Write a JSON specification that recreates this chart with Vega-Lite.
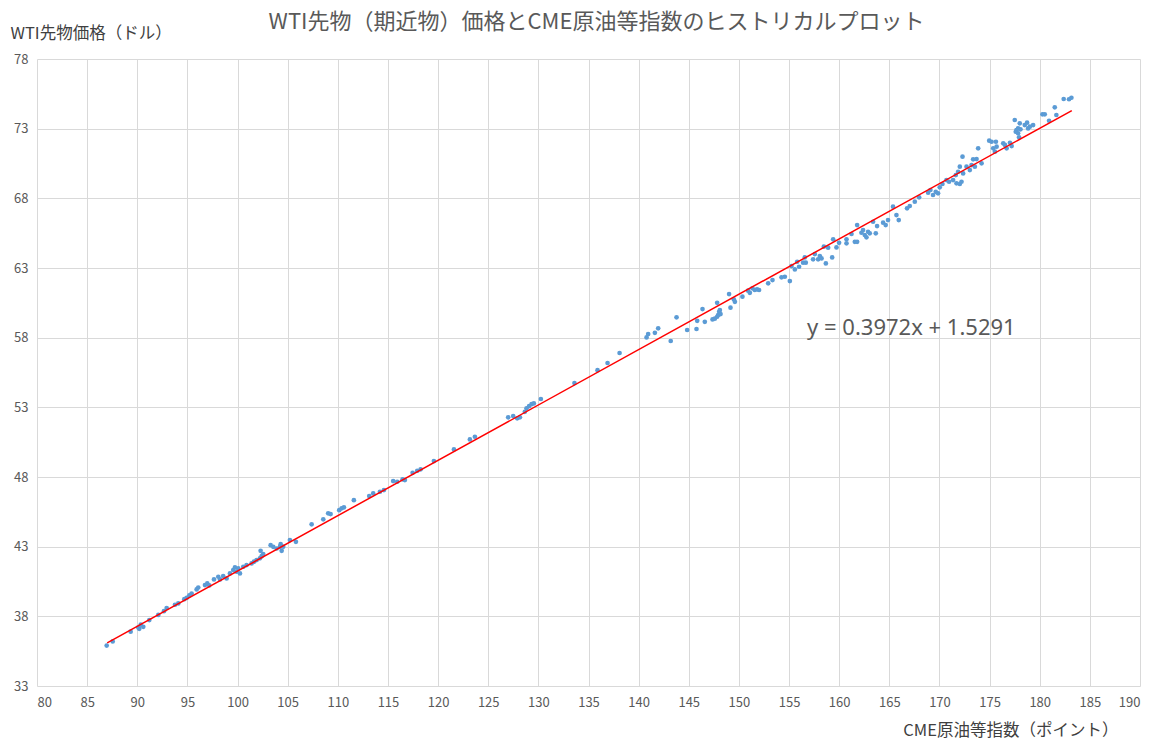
{
  "$schema": "https://vega.github.io/schema/vega-lite/v6.json",
  "width": 1103,
  "height": 627,
  "autosize": {"type": "none"},
  "padding": {"left": 37, "top": 59, "right": 12, "bottom": 54},
  "background": "white",
  "config": {
    "font": "Noto Sans CJK JP",
    "view": {"stroke": null},
    "axis": {
      "grid": true,
      "gridColor": "#d9d9d9",
      "gridWidth": 1,
      "domain": false,
      "ticks": false,
      "labelColor": "#595959",
      "labelFontSize": 13,
      "titleFontSize": 16.5,
      "titleFontWeight": "normal",
      "titleColor": "#404040"
    }
  },
  "title": {
    "text": "WTI先物（期近物）価格とCME原油等指数のヒストリカルプロット",
    "anchor": "middle",
    "fontSize": 22,
    "fontWeight": "normal",
    "color": "#595959",
    "dx": 8,
    "dy": 13
  },
  "datasets": {
    "points": [
      {"cme": 86.95, "wti": 35.9}, {"cme": 87.55, "wti": 36.2}, {"cme": 89.34, "wti": 36.9}, {"cme": 90.2, "wti": 37.1},
      {"cme": 90.35, "wti": 37.4}, {"cme": 90.6, "wti": 37.25}, {"cme": 90.1, "wti": 37.2}, {"cme": 91.2, "wti": 37.73},
      {"cme": 92.1, "wti": 38.1}, {"cme": 92.66, "wti": 38.37}, {"cme": 92.93, "wti": 38.6}, {"cme": 93.76, "wti": 38.83},
      {"cme": 94.09, "wti": 38.93}, {"cme": 94.69, "wti": 39.23}, {"cme": 94.93, "wti": 39.33}, {"cme": 95.19, "wti": 39.5},
      {"cme": 95.42, "wti": 39.64}, {"cme": 95.92, "wti": 39.93}, {"cme": 96.08, "wti": 40.07}, {"cme": 96.75, "wti": 40.24},
      {"cme": 96.98, "wti": 40.36}, {"cme": 97.18, "wti": 40.22}, {"cme": 97.65, "wti": 40.65}, {"cme": 98.08, "wti": 40.84},
      {"cme": 98.25, "wti": 40.65}, {"cme": 98.57, "wti": 40.89}, {"cme": 98.91, "wti": 40.72}, {"cme": 99.24, "wti": 41.08},
      {"cme": 99.57, "wti": 41.32}, {"cme": 99.74, "wti": 41.51}, {"cme": 99.91, "wti": 41.2}, {"cme": 100.07, "wti": 41.44},
      {"cme": 100.24, "wti": 41.08}, {"cme": 100.57, "wti": 41.56}, {"cme": 100.9, "wti": 41.68}, {"cme": 101.4, "wti": 41.8},
      {"cme": 101.64, "wti": 41.92}, {"cme": 101.9, "wti": 42.04}, {"cme": 102.23, "wti": 42.16}, {"cme": 102.4, "wti": 42.32},
      {"cme": 102.56, "wti": 42.47}, {"cme": 102.3, "wti": 42.7}, {"cme": 103.3, "wti": 43.11}, {"cme": 103.56, "wti": 42.99},
      {"cme": 103.9, "wti": 42.87}, {"cme": 104.23, "wti": 42.99}, {"cme": 104.4, "wti": 42.7}, {"cme": 104.3, "wti": 43.18},
      {"cme": 104.55, "wti": 43.0}, {"cme": 105.22, "wti": 43.47}, {"cme": 105.82, "wti": 43.35}, {"cme": 107.39, "wti": 44.6},
      {"cme": 108.55, "wti": 44.96}, {"cme": 109.04, "wti": 45.39}, {"cme": 109.28, "wti": 45.34}, {"cme": 110.14, "wti": 45.62},
      {"cme": 110.38, "wti": 45.75}, {"cme": 110.61, "wti": 45.82}, {"cme": 111.6, "wti": 46.34}, {"cme": 113.13, "wti": 46.63},
      {"cme": 113.53, "wti": 46.82}, {"cme": 114.2, "wti": 46.94}, {"cme": 114.6, "wti": 47.06}, {"cme": 115.52, "wti": 47.71},
      {"cme": 115.92, "wti": 47.66}, {"cme": 116.46, "wti": 47.83}, {"cme": 116.69, "wti": 47.78}, {"cme": 117.46, "wti": 48.3},
      {"cme": 117.92, "wti": 48.45}, {"cme": 118.26, "wti": 48.55}, {"cme": 119.58, "wti": 49.14}, {"cme": 121.58, "wti": 49.98},
      {"cme": 123.17, "wti": 50.7}, {"cme": 123.67, "wti": 50.89}, {"cme": 126.99, "wti": 52.28}, {"cme": 127.49, "wti": 52.37},
      {"cme": 127.89, "wti": 52.21}, {"cme": 128.16, "wti": 52.28}, {"cme": 128.65, "wti": 52.68}, {"cme": 128.82, "wti": 52.93},
      {"cme": 129.08, "wti": 53.09}, {"cme": 129.32, "wti": 53.23}, {"cme": 129.55, "wti": 53.28}, {"cme": 130.25, "wti": 53.6},
      {"cme": 133.6, "wti": 54.74}, {"cme": 135.9, "wti": 55.67}, {"cme": 136.9, "wti": 56.18}, {"cme": 138.1, "wti": 56.9},
      {"cme": 140.79, "wti": 58.02}, {"cme": 140.95, "wti": 58.26}, {"cme": 141.62, "wti": 58.35}, {"cme": 141.95, "wti": 58.67},
      {"cme": 143.2, "wti": 57.76}, {"cme": 143.78, "wti": 59.46}, {"cme": 144.84, "wti": 58.55}, {"cme": 145.77, "wti": 58.62},
      {"cme": 145.84, "wti": 59.21}, {"cme": 146.37, "wti": 60.05}, {"cme": 146.6, "wti": 59.14}, {"cme": 147.37, "wti": 59.31},
      {"cme": 147.6, "wti": 59.36}, {"cme": 147.83, "wti": 60.5}, {"cme": 147.93, "wti": 59.62}, {"cme": 148.03, "wti": 59.86},
      {"cme": 148.1, "wti": 59.98}, {"cme": 148.17, "wti": 59.69}, {"cme": 147.83, "wti": 59.5}, {"cme": 149.02, "wti": 61.13},
      {"cme": 149.16, "wti": 60.15}, {"cme": 149.6, "wti": 60.57}, {"cme": 149.49, "wti": 60.75}, {"cme": 150.35, "wti": 60.94},
      {"cme": 150.92, "wti": 61.37}, {"cme": 151.09, "wti": 61.22}, {"cme": 151.35, "wti": 61.54}, {"cme": 151.58, "wti": 61.42},
      {"cme": 151.81, "wti": 61.47}, {"cme": 152.01, "wti": 61.42}, {"cme": 152.92, "wti": 61.9}, {"cme": 153.35, "wti": 62.13},
      {"cme": 154.25, "wti": 62.33}, {"cme": 154.58, "wti": 62.37}, {"cme": 155.08, "wti": 62.06}, {"cme": 155.25, "wti": 63.14},
      {"cme": 155.58, "wti": 62.9}, {"cme": 155.81, "wti": 63.45}, {"cme": 156.0, "wti": 63.09}, {"cme": 156.4, "wti": 63.38},
      {"cme": 156.57, "wti": 63.76}, {"cme": 156.67, "wti": 63.38}, {"cme": 157.4, "wti": 63.62}, {"cme": 157.57, "wti": 64.0},
      {"cme": 157.9, "wti": 63.62}, {"cme": 158.07, "wti": 63.86}, {"cme": 158.24, "wti": 63.69}, {"cme": 158.67, "wti": 63.33},
      {"cme": 158.47, "wti": 64.53}, {"cme": 158.9, "wti": 64.46}, {"cme": 159.3, "wti": 63.76}, {"cme": 159.4, "wti": 65.06},
      {"cme": 159.73, "wti": 64.48}, {"cme": 159.99, "wti": 64.81}, {"cme": 160.73, "wti": 64.77}, {"cme": 160.73, "wti": 65.06},
      {"cme": 161.23, "wti": 65.44}, {"cme": 161.56, "wti": 64.88}, {"cme": 161.79, "wti": 64.88}, {"cme": 161.79, "wti": 66.08},
      {"cme": 162.22, "wti": 65.53}, {"cme": 162.38, "wti": 65.72}, {"cme": 162.55, "wti": 65.37}, {"cme": 162.72, "wti": 65.2},
      {"cme": 162.88, "wti": 65.6}, {"cme": 163.05, "wti": 65.49}, {"cme": 163.38, "wti": 66.32}, {"cme": 163.65, "wti": 65.49},
      {"cme": 163.78, "wti": 66.01}, {"cme": 164.38, "wti": 66.25}, {"cme": 164.64, "wti": 66.08}, {"cme": 164.87, "wti": 66.44},
      {"cme": 165.37, "wti": 67.4}, {"cme": 165.71, "wti": 66.8}, {"cme": 165.94, "wti": 66.44}, {"cme": 166.77, "wti": 67.28},
      {"cme": 167.04, "wti": 67.45}, {"cme": 167.54, "wti": 67.76}, {"cme": 167.97, "wti": 68.07}, {"cme": 168.87, "wti": 68.4},
      {"cme": 169.1, "wti": 68.6}, {"cme": 169.36, "wti": 68.24}, {"cme": 169.63, "wti": 68.47}, {"cme": 169.86, "wti": 68.36},
      {"cme": 170.03, "wti": 68.79}, {"cme": 170.3, "wti": 69.03}, {"cme": 170.7, "wti": 69.31}, {"cme": 170.96, "wti": 69.19},
      {"cme": 171.36, "wti": 69.31}, {"cme": 171.7, "wti": 69.08}, {"cme": 172.03, "wti": 69.03}, {"cme": 172.2, "wti": 69.19},
      {"cme": 172.3, "wti": 70.99}, {"cme": 171.63, "wti": 69.67}, {"cme": 171.86, "wti": 69.91}, {"cme": 172.03, "wti": 70.27},
      {"cme": 172.36, "wti": 69.79}, {"cme": 172.7, "wti": 70.27}, {"cme": 173.03, "wti": 70.03}, {"cme": 173.2, "wti": 70.39},
      {"cme": 173.36, "wti": 70.8}, {"cme": 173.7, "wti": 70.82}, {"cme": 173.53, "wti": 70.27}, {"cme": 173.86, "wti": 71.59},
      {"cme": 174.2, "wti": 70.51}, {"cme": 174.96, "wti": 72.14}, {"cme": 175.2, "wti": 72.06}, {"cme": 175.36, "wti": 71.59},
      {"cme": 175.63, "wti": 72.06}, {"cme": 175.53, "wti": 71.35}, {"cme": 175.7, "wti": 71.71}, {"cme": 176.36, "wti": 71.95},
      {"cme": 176.53, "wti": 71.83}, {"cme": 177.03, "wti": 71.99}, {"cme": 177.2, "wti": 71.75}, {"cme": 176.7, "wti": 71.59},
      {"cme": 177.51, "wti": 73.62}, {"cme": 177.68, "wti": 72.9}, {"cme": 177.84, "wti": 72.67}, {"cme": 177.61, "wti": 72.78},
      {"cme": 178.01, "wti": 73.38}, {"cme": 177.84, "wti": 73.02}, {"cme": 177.94, "wti": 72.38}, {"cme": 178.08, "wti": 72.95},
      {"cme": 178.51, "wti": 73.26}, {"cme": 178.74, "wti": 73.43}, {"cme": 178.84, "wti": 73.02}, {"cme": 179.01, "wti": 73.14},
      {"cme": 179.34, "wti": 73.26}, {"cme": 180.27, "wti": 74.03}, {"cme": 180.5, "wti": 74.03}, {"cme": 180.93, "wti": 73.57},
      {"cme": 181.5, "wti": 74.53}, {"cme": 181.66, "wti": 73.98}, {"cme": 182.39, "wti": 75.13}, {"cme": 182.92, "wti": 75.11},
      {"cme": 183.16, "wti": 75.22}
    ],
    "trend": [
      {"cme": 87.0, "wti": 36.09},
      {"cme": 183.2, "wti": 74.30}
    ]
  },
  "layer": [
    {
      "data": {"name": "points"},
      "mark": {"type": "circle", "size": 22, "color": "#5b9bd5", "opacity": 1},
      "encoding": {
        "x": {
          "field": "cme", "type": "quantitative",
          "scale": {"domain": [80, 190], "nice": false, "zero": false},
          "axis": {
            "values": [80, 85, 90, 95, 100, 105, 110, 115, 120, 125, 130, 135, 140, 145, 150, 155, 160, 165, 170, 175, 180, 185, 190],
            "labelPadding": 10,
            "title": "CME原油等指数（ポイント）",
            "titleAnchor": "start",
            "titleAlign": "right",
            "titleX": 1081,
            "titleY": 44,
            "titleBaseline": "middle"
          }
        },
        "y": {
          "field": "wti", "type": "quantitative",
          "scale": {"domain": [33, 78], "nice": false, "zero": false},
          "axis": {
            "values": [33, 38, 43, 48, 53, 58, 63, 68, 73, 78],
            "labelPadding": 9,
            "title": "WTI先物価格（ドル）",
            "titleAngle": 0,
            "titleAlign": "left",
            "titleBaseline": "middle",
            "titleX": -27,
            "titleY": -26
          }
        }
      }
    },
    {
      "data": {"name": "trend"},
      "mark": {"type": "line", "color": "#ff0000", "strokeWidth": 1.5},
      "encoding": {
        "x": {"field": "cme", "type": "quantitative"},
        "y": {"field": "wti", "type": "quantitative"}
      }
    },
    {
      "data": {"values": [{}]},
      "mark": {"type": "text", "align": "left", "baseline": "middle", "fontSize": 22, "color": "#595959", "font": "Noto Sans"},
      "encoding": {
        "x": {"datum": 156.8, "type": "quantitative"},
        "y": {"datum": 58.7, "type": "quantitative"},
        "text": {"value": "y = 0.3972x + 1.5291"}
      }
    }
  ]
}
